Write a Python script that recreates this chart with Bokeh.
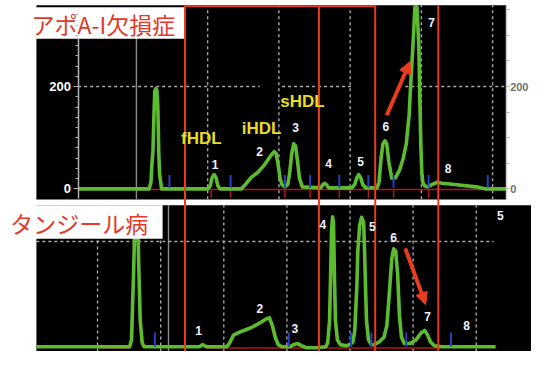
from bokeh.plotting import figure
from bokeh.models import Range1d, LinearAxis, FixedTicker, Arrow, NormalHead
from bokeh.embed import file_html
from bokeh.resources import INLINE
from bokeh.core.properties import value

# ---------------- data ----------------
# upper chromatogram: elution time (min) / signal
top_time = [0.9, 5.89, 6.02, 6.09, 6.16, 6.23, 6.29, 6.36, 6.43, 6.50, 6.57, 6.63, 6.77,
            10.04, 10.18, 10.31, 10.45, 10.59, 10.72, 10.86,
            12.36, 12.63, 13.04, 13.51, 13.99, 14.40, 14.67, 14.81, 14.95, 15.08, 15.22,
            15.42, 15.63, 15.76, 15.90, 16.04, 16.17, 16.31, 16.44, 16.65,
            17.94, 18.08, 18.22, 18.35, 18.49,
            20.12, 20.33, 20.46, 20.60, 20.74, 20.88, 21.08,
            21.89, 22.03, 22.17, 22.30, 22.44, 22.57, 22.71, 22.92,
            23.19, 23.46, 23.73, 23.94, 24.14, 24.28, 24.41, 24.55, 24.69, 24.82, 24.89,
            24.96, 25.03, 25.10, 25.23, 25.44, 25.78, 26.12, 26.46, 27.48, 28.84, 29.52, 30.95]
top_signal = [0, 0, 13, 50, 73, 144, 191, 196, 194, 163, 69, 28, 0,
              0, 6, 22, 28, 22, 6, 0,
              0, 8, 22, 32, 47, 64, 73, 69, 47, 21, 8,
              4, 9, 32, 69, 88, 84, 54, 21, 4,
              2, 8, 11, 8, 2,
              2, 9, 21, 28, 22, 9, 2,
              2, 13, 60, 88, 94, 88, 54, 21,
              22, 36, 60, 88, 144, 219, 280, 356, 356, 280, 181,
              88, 32, 13, 6, 4, 9, 13, 11, 8, 4, 0, 0]

# lower chromatogram: elution time (min) / signal
bot_time = [0.15, 7.54, 7.69, 7.77, 7.85, 7.92, 8.00, 8.15, 8.23, 8.31, 8.38, 8.54, 8.69,
            13.08, 13.31, 13.46, 13.62,
            15.23, 15.46, 15.77, 16.38, 17.15, 17.92, 18.38, 18.62, 18.85, 19.08, 19.31, 19.62,
            20.23, 20.54, 20.85, 21.15, 21.54, 22.31,
            23.08, 23.23, 23.38, 23.46, 23.54, 23.62, 23.69, 23.77, 23.85, 24.00, 24.23,
            24.69, 25.00, 25.23, 25.38, 25.54, 25.62, 25.77, 25.92, 26.08, 26.15, 26.23,
            26.31, 26.46, 26.69,
            26.92, 27.31, 27.69, 27.92, 28.15, 28.31, 28.46, 28.62, 28.77, 28.92, 29.08, 29.31,
            29.77, 30.23, 30.62, 30.92, 31.15, 31.38, 31.69, 32.31, 36.54]
bot_signal = [0, 0, 13, 76, 136, 204, 255, 255, 186, 113, 49, 7, 0,
              0, 4, 2, 0,
              0, 7, 22, 29, 36, 46, 53, 55, 40, 18, 4, 0,
              0, 4, 6, 2, -2, -2,
              0, 7, 49, 131, 222, 247, 236, 131, 49, 13, 4,
              2, 4, 9, 31, 113, 182, 231, 246, 236, 186, 113,
              49, 13, 4,
              4, 9, 18, 40, 113, 167, 186, 182, 140, 58, 18, 6,
              6, 13, 26, 31, 22, 9, 2, 0, 0]

fraction_bounds = [8.41, 17.81, 21.76, 26.19]      # red fraction limits (upper time scale)
top_grid_times = [10, 15, 20, 25, 30]
top_solid_time = 5
top_level_gaps_from = [0.91, 15.22, 23.87]
top_level_gaps_to = [13.65, 20.19, 30.95]
bot_grid_times = [5, 10, 15, 20, 25, 30, 35]
bot_solid_time = 10.62
grid_level = 200

top_markers = [7.32, 11.61, 15.42, 17.19, 19.24, 21.28, 23.05, 25.51, 29.66]
top_drops = [10.25, 11.61, 15.42, 17.19, 19.24, 21.28, 23.05, 25.51]
top_base_from = [5.0, 10.25]
top_base_to = [7.19, 30.95]
bot_markers = [9.54, 20.15, 25.08, 26.69, 29.46, 33.0]
bot_base_from = [5.23, 13.54]
bot_base_to = [7.54, 32.08]

top_peak_names = ["1", "2", "3", "4", "5", "6", "7", "8"]
top_peak_t = [10.52, 13.65, 16.17, 18.49, 20.74, 22.51, 25.71, 26.87]
top_peak_v = [47, 73, 120, 49, 54, 122, 325, 39]
class_names = ["fHDL", "iHDL", "sHDL"]
class_t = [9.56, 13.79, 16.65]
class_v = [99, 118, 170]
bot_peak_names = ["1", "2", "3", "4", "5", "6", "7", "8", "5"]
bot_peak_t = [13.0, 17.85, 20.62, 22.85, 26.77, 28.46, 31.15, 34.23, 36.92]
bot_peak_v = [31, 73, 35, 233, 229, 207, 58, 40, 249]

titles = ["アポA-I欠損症", "タンジール病"]
y_major_ticks = [0, 200]

top_arrow = dict(x_start=22.57, y_start=144, x_end=24.21, y_end=249)
bot_arrow = dict(x_start=29.38, y_start=187, x_end=31.0, y_end=80)

# ---------------- styles ----------------
GREEN = "#5dbb2f"
RED = "#e83b1f"
DARKRED = "#b3161a"
BLUE = "#2342c4"
YELLOW = "#e8dd22"
NUMCOL = "#eef2ff"
GRID = "#a8a8a8"
FONT = "Liberation Sans"
JP = "Noto Sans CJK JP"

p = figure(width=531, height=351, x_range=Range1d(0, 547), y_range=Range1d(367, 0),
           output_backend="svg", toolbar_location=None, min_border=0,
           x_axis_type=None, y_axis_type=None)
p.grid.visible = False
p.outline_line_color = None
p.background_fill_color = "white"
p.border_fill_color = "white"

p.extra_x_ranges = {"t_top": Range1d(-4.54, 32.73), "t_bot": Range1d(-2.69, 39.38)}
p.extra_y_ranges = {"v_top": Range1d(-317.8, 368.2), "v_bot": Range1d(-9.1, 658.2)}
T = dict(x_range_name="t_top", y_range_name="v_top")
B = dict(x_range_name="t_bot", y_range_name="v_bot")

# panel backgrounds (canvas units)
p.quad(left=[37, 37], right=[521, 547], top=[5, 214], bottom=[208, 367],
       fill_color="black", line_color=None)

# ---- upper panel grid ----
p.segment(x0=top_grid_times, x1=top_grid_times, y0=[-20] * 5, y1=[359] * 5,
          line_color=GRID, line_width=1.4, line_dash="3 3", **T)
p.segment(x0=[top_solid_time], x1=[top_solid_time], y0=[-20], y1=[300],
          line_color="#8c8c8c", line_width=1.4, **T)
p.segment(x0=top_level_gaps_from, x1=top_level_gaps_to, y0=[grid_level] * 3, y1=[grid_level] * 3,
          line_color=GRID, line_width=1.4, line_dash="3 3", **T)

# ---- lower panel grid ----
n = len(bot_grid_times)
p.segment(x0=bot_grid_times, x1=bot_grid_times, y0=[-9] * n, y1=[269] * n,
          line_color=GRID, line_width=1.4, line_dash="3 3", **B)
p.segment(x0=[bot_solid_time], x1=[bot_solid_time], y0=[-9], y1=[269],
          line_color="#8c8c8c", line_width=1.4, **B)
p.segment(x0=[bot_time[0]], x1=[36.38], y0=[grid_level], y1=[grid_level],
          line_color=GRID, line_width=1.4, line_dash="3 3", **B)

# integration baselines / markers
p.segment(x0=top_base_from, x1=top_base_to, y0=[-1, -1], y1=[-1, -1],
          line_color=DARKRED, line_width=1.5, **T)
p.segment(x0=top_drops, x1=top_drops, y0=[0] * len(top_drops), y1=[-18] * len(top_drops),
          line_color=DARKRED, line_width=1.5, **T)
p.segment(x0=bot_base_from, x1=bot_base_to, y0=[-2.5, -2.5], y1=[-2.5, -2.5],
          line_color=DARKRED, line_width=1.5, **B)

# traces
p.line(top_time, top_signal, line_color=GREEN, line_width=3.6, line_join="round", **T)
p.line(bot_time, bot_signal, line_color=GREEN, line_width=3.6, line_join="round", **B)

p.segment(x0=top_markers, x1=top_markers, y0=[2] * len(top_markers), y1=[27] * len(top_markers),
          line_color=BLUE, line_width=2, **T)
p.segment(x0=bot_markers, x1=bot_markers, y0=[0] * len(bot_markers), y1=[27] * len(bot_markers),
          line_color=BLUE, line_width=2, **B)

# axes of the upper chromatogram
minor = list(range(0, 360, 20))
left_ax = LinearAxis(x_range_name="t_top", y_range_name="v_top", fixed_location=top_time[0],
                     ticker=FixedTicker(ticks=y_major_ticks, minor_ticks=minor),
                     bounds=(-19, 293))
right_ax = LinearAxis(x_range_name="t_top", y_range_name="v_top", fixed_location=top_time[-1],
                      ticker=FixedTicker(ticks=y_major_ticks, minor_ticks=list(range(0, 360, 50))),
                      bounds=(-19, 358))
for ax, lab in ((left_ax, "white"), (right_ax, "#707070")):
    ax.axis_line_color = "#b4b4b4"
    ax.axis_line_width = 1.5
    ax.major_tick_line_color = "#b4b4b4"
    ax.minor_tick_line_color = "#b4b4b4"
    ax.major_tick_in = 0
    ax.major_tick_out = 5
    ax.minor_tick_in = 0
    ax.minor_tick_out = 3
    ax.major_label_text_color = lab
    ax.major_label_text_font = FONT
    ax.major_label_text_font_style = "bold"
    ax.major_label_text_font_size = "13px"
    ax.major_label_standoff = 2
right_ax.axis_line_color = "#cfcfcf"
right_ax.major_tick_out = 3
right_ax.major_label_standoff = 1
right_ax.major_label_text_font_size = "11px"
p.add_layout(left_ax, "left")
p.add_layout(right_ax, "right")

# title boxes
p.quad(left=[0, 0], right=[190, 167], top=[7, 214], bottom=[40, 249],
       fill_color="white", line_color=None)
p.text(x=[32, 10], y=[25, 233], text=titles, text_font=value(JP), text_font_size="23px",
       text_color="#e2392a", text_align="left", text_baseline="middle")

# fraction boundaries (span both chromatograms)
p.segment(x0=fraction_bounds, x1=fraction_bounds, y0=[5] * 4, y1=[367] * 4,
          line_color=RED, line_width=2, x_range_name="t_top")
p.segment(x0=[fraction_bounds[0]], x1=[fraction_bounds[2]], y0=[6], y1=[6],
          line_color=RED, line_width=2, x_range_name="t_top")

# labels
p.text(x=top_peak_t, y=top_peak_v, text=top_peak_names, text_font=value(FONT),
       text_font_style="bold", text_font_size="12px", text_color=NUMCOL,
       text_align="center", text_baseline="middle", **T)
p.text(x=class_t, y=class_v, text=class_names, text_font=value(FONT),
       text_font_style="bold", text_font_size="17px", text_color=YELLOW,
       text_align="center", text_baseline="middle", **T)
p.text(x=bot_peak_t, y=bot_peak_v, text=bot_peak_names, text_font=value(FONT),
       text_font_style="bold", text_font_size="12px", text_color=NUMCOL,
       text_align="center", text_baseline="middle", **B)

for arr, rn in ((top_arrow, T), (bot_arrow, B)):
    p.add_layout(Arrow(end=NormalHead(size=12, fill_color=RED, line_color=RED, line_width=1),
                       line_color=RED, line_width=4, **arr, **rn))

open("out.html", "w").write(file_html(p, INLINE))
